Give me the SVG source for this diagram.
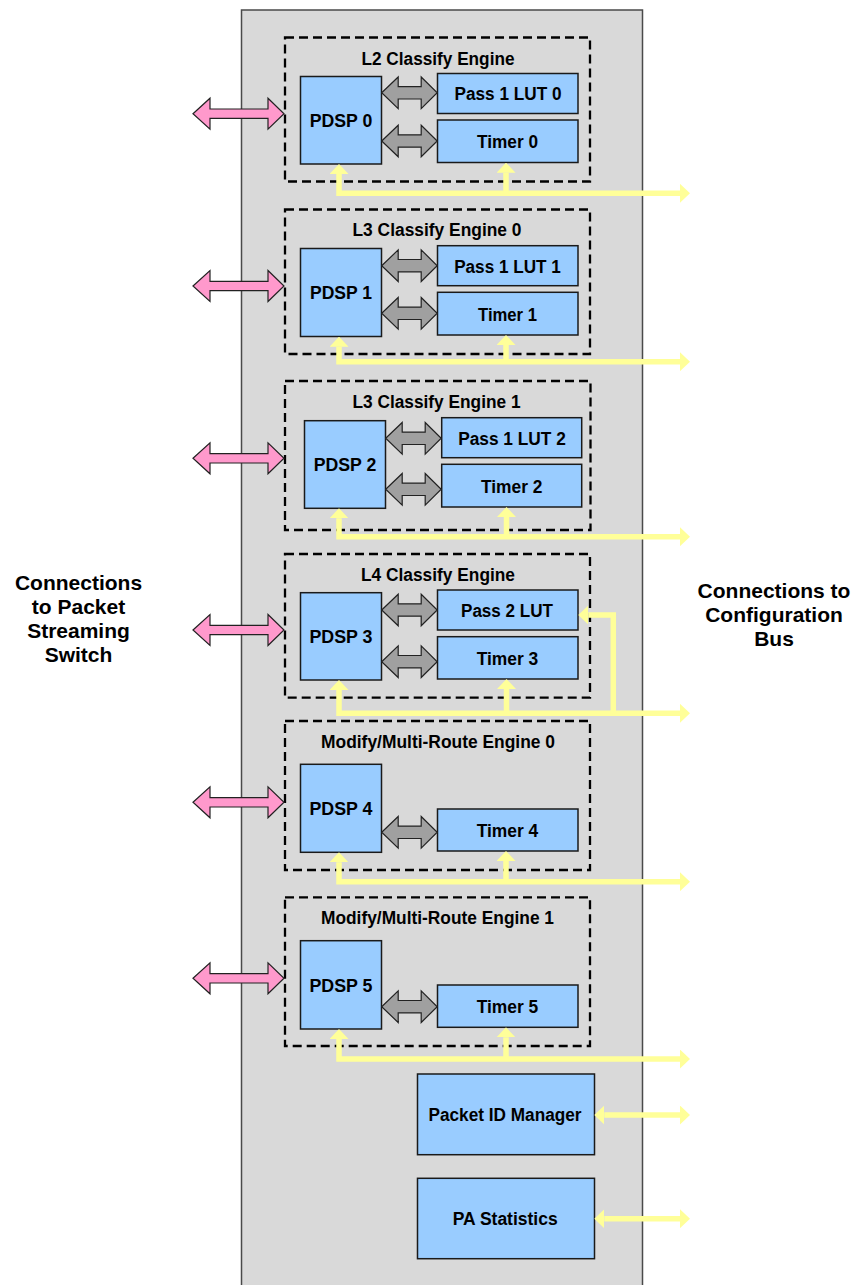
<svg xmlns="http://www.w3.org/2000/svg" xmlns:xlink="http://www.w3.org/1999/xlink" width="859" height="1285" viewBox="0 0 859 1285">
<style>
.bg{fill:#d9d9d9;stroke:#4a4a4a;stroke-width:1.5}
.eng{fill:none;stroke:#000;stroke-width:2.3;stroke-dasharray:9 5}
.blk{fill:#99ccff;stroke:#1a1a1a;stroke-width:1.5}
.pink{fill:#ff99cc;stroke:#222;stroke-width:1.2}
.gray{fill:#a0a0a0;stroke:#222;stroke-width:1.2}
.yl{fill:none;stroke:#ffff99;stroke-width:5.5}
.t{font-family:"Liberation Sans",Arial,sans-serif;font-weight:bold;font-size:18.8px;fill:#000;text-anchor:middle}
.side{font-family:"Liberation Sans",Arial,sans-serif;font-weight:bold;font-size:21px;fill:#000;text-anchor:middle}
</style>
<defs>
<marker id="ya" viewBox="0 0 10 19" refX="0" refY="9.5" markerWidth="10" markerHeight="19" markerUnits="userSpaceOnUse" orient="auto-start-reverse">
<path d="M0,0 L10,9.5 L0,19 Z" fill="#ffff99"/>
</marker>
<path id="pa" class="pink" d="M193,0 L210,-15.5 L210,-4.7 L268,-4.7 L268,-15.5 L284,0 L268,15.5 L268,4.7 L210,4.7 L210,15.5 Z"/>
<path id="ga" class="gray" d="M0,0 L16.5,-15.8 L16.5,-6.2 L39.5,-6.2 L39.5,-15.8 L55.5,0 L39.5,15.8 L39.5,6.2 L16.5,6.2 L16.5,15.8 Z"/>
</defs>

<rect class="bg" x="241.5" y="10" width="401" height="1290"/>

<g id="engine0">
<rect class="eng" x="285" y="37.5" width="305" height="144"/>
<text class="t" x="438" y="65" textLength="153" lengthAdjust="spacingAndGlyphs">L2 Classify Engine</text>
<rect class="blk" x="300.5" y="76.5" width="81" height="87.5"/>
<text class="t" x="341" y="126.7" textLength="62.6" lengthAdjust="spacingAndGlyphs">PDSP 0</text>
<rect class="blk" x="437.5" y="73.5" width="140.5" height="40"/>
<text class="t" x="508" y="100.3" textLength="107" lengthAdjust="spacingAndGlyphs">Pass 1 LUT 0</text>
<rect class="blk" x="437.5" y="120" width="140.5" height="42.5"/>
<text class="t" x="507.5" y="148.3" textLength="61" lengthAdjust="spacingAndGlyphs">Timer 0</text>
</g>

<g id="engine1">
<rect class="eng" x="285" y="209.5" width="305" height="144.5"/>
<text class="t" x="437" y="236" textLength="169" lengthAdjust="spacingAndGlyphs">L3 Classify Engine 0</text>
<rect class="blk" x="300.5" y="248.5" width="81" height="88"/>
<text class="t" x="341" y="299" textLength="62" lengthAdjust="spacingAndGlyphs">PDSP 1</text>
<rect class="blk" x="437.5" y="245.7" width="140.5" height="40"/>
<text class="t" x="507.5" y="272.5" textLength="106.7" lengthAdjust="spacingAndGlyphs">Pass 1 LUT 1</text>
<rect class="blk" x="437.5" y="292.3" width="140.5" height="42.7"/>
<text class="t" x="507.5" y="320.5" textLength="59" lengthAdjust="spacingAndGlyphs">Timer 1</text>
</g>

<g id="engine2">
<rect class="eng" x="285" y="381" width="305.5" height="149"/>
<text class="t" x="436.5" y="408.3" textLength="168" lengthAdjust="spacingAndGlyphs">L3 Classify Engine 1</text>
<rect class="blk" x="304.5" y="420.7" width="81" height="87.6"/>
<text class="t" x="345" y="471" textLength="62.6" lengthAdjust="spacingAndGlyphs">PDSP 2</text>
<rect class="blk" x="441.7" y="417.7" width="140" height="40"/>
<text class="t" x="512" y="444.5" textLength="107.7" lengthAdjust="spacingAndGlyphs">Pass 1 LUT 2</text>
<rect class="blk" x="441.7" y="464.3" width="140" height="42.7"/>
<text class="t" x="511.7" y="492.5" textLength="61.5" lengthAdjust="spacingAndGlyphs">Timer 2</text>
</g>

<g id="engine3">
<rect class="eng" x="285" y="554" width="305" height="143.7"/>
<text class="t" x="438" y="580.7" textLength="154" lengthAdjust="spacingAndGlyphs">L4 Classify Engine</text>
<rect class="blk" x="300.5" y="592.7" width="81" height="87.3"/>
<text class="t" x="341" y="643" textLength="63" lengthAdjust="spacingAndGlyphs">PDSP 3</text>
<rect class="blk" x="437.5" y="590" width="140.5" height="40"/>
<text class="t" x="507" y="617" textLength="92" lengthAdjust="spacingAndGlyphs">Pass 2 LUT</text>
<rect class="blk" x="437.5" y="636.7" width="140.5" height="42.3"/>
<text class="t" x="507.5" y="665" textLength="61.6" lengthAdjust="spacingAndGlyphs">Timer 3</text>
</g>

<g id="engine4">
<rect class="eng" x="285" y="721" width="305" height="149"/>
<text class="t" x="438" y="748.3" textLength="234" lengthAdjust="spacingAndGlyphs">Modify/Multi-Route Engine 0</text>
<rect class="blk" x="300.5" y="764.3" width="81" height="88"/>
<text class="t" x="341" y="815" textLength="63" lengthAdjust="spacingAndGlyphs">PDSP 4</text>
<rect class="blk" x="437.5" y="809" width="140.5" height="42"/>
<text class="t" x="507.5" y="837" textLength="61.6" lengthAdjust="spacingAndGlyphs">Timer 4</text>
</g>

<g id="engine5">
<rect class="eng" x="285" y="897.3" width="305" height="148.7"/>
<text class="t" x="437.5" y="924.3" textLength="233" lengthAdjust="spacingAndGlyphs">Modify/Multi-Route Engine 1</text>
<rect class="blk" x="300.5" y="940.7" width="81" height="88.3"/>
<text class="t" x="341" y="991.5" textLength="63" lengthAdjust="spacingAndGlyphs">PDSP 5</text>
<rect class="blk" x="437.5" y="985" width="140.5" height="42.3"/>
<text class="t" x="507.5" y="1013" textLength="61.6" lengthAdjust="spacingAndGlyphs">Timer 5</text>
</g>

<g id="pktid">
<rect class="blk" x="417.5" y="1074" width="177" height="80.7"/>
<text class="t" x="505" y="1120.7" textLength="153" lengthAdjust="spacingAndGlyphs">Packet ID Manager</text>
</g>

<g id="pastats">
<rect class="blk" x="417.5" y="1178.3" width="177" height="80.4"/>
<text class="t" x="505.2" y="1224.5" textLength="105" lengthAdjust="spacingAndGlyphs">PA Statistics</text>
</g>

<g id="labels">
<text class="side" x="78.5" y="590">Connections</text>
<text class="side" x="78.5" y="614">to Packet</text>
<text class="side" x="78.5" y="638">Streaming</text>
<text class="side" x="78.5" y="662">Switch</text>
<text class="side" x="774" y="598">Connections to</text>
<text class="side" x="774" y="622">Configuration</text>
<text class="side" x="774" y="646">Bus</text>
</g>

<g id="connectors">
<use href="#pa" y="113.7"/>
<use href="#pa" y="286"/>
<use href="#pa" y="458.3"/>
<use href="#pa" y="630"/>
<use href="#pa" y="802.3"/>
<use href="#pa" y="978.3"/>

<use href="#ga" x="381.7" y="92.8"/>
<use href="#ga" x="381.7" y="141"/>
<use href="#ga" x="381.7" y="265.7"/>
<use href="#ga" x="381.7" y="313.3"/>
<use href="#ga" x="385.7" y="438.3"/>
<use href="#ga" x="385.7" y="489.3"/>
<use href="#ga" x="381.7" y="610"/>
<use href="#ga" x="381.7" y="661.7"/>
<use href="#ga" x="381.7" y="832.3"/>
<use href="#ga" x="381.7" y="1006.7"/>

<path class="yl" d="M339,174 V193.3 H680" marker-start="url(#ya)" marker-end="url(#ya)"/>
<path class="yl" d="M506,172.7 V193.3" marker-start="url(#ya)"/>
<path class="yl" d="M339,346.7 V361.7 H680" marker-start="url(#ya)" marker-end="url(#ya)"/>
<path class="yl" d="M506,345 V361.7" marker-start="url(#ya)"/>
<path class="yl" d="M339,518.3 V536.7 H680" marker-start="url(#ya)" marker-end="url(#ya)"/>
<path class="yl" d="M506.5,517 V536.7" marker-start="url(#ya)"/>
<path class="yl" d="M339,690 V713.3 H680" marker-start="url(#ya)" marker-end="url(#ya)"/>
<path class="yl" d="M506.5,689 V713.3" marker-start="url(#ya)"/>
<path class="yl" d="M613.3,713.3 V615 H588.3" marker-end="url(#ya)"/>
<path class="yl" d="M339,862.3 V881.7 H680" marker-start="url(#ya)" marker-end="url(#ya)"/>
<path class="yl" d="M506,861 V881.7" marker-start="url(#ya)"/>
<path class="yl" d="M339,1039 V1059 H680" marker-start="url(#ya)" marker-end="url(#ya)"/>
<path class="yl" d="M506,1037.3 V1059" marker-start="url(#ya)"/>
<path class="yl" d="M604.3,1115 H680" marker-start="url(#ya)" marker-end="url(#ya)"/>
<path class="yl" d="M604.3,1218.7 H680" marker-start="url(#ya)" marker-end="url(#ya)"/>
</g>
</svg>
